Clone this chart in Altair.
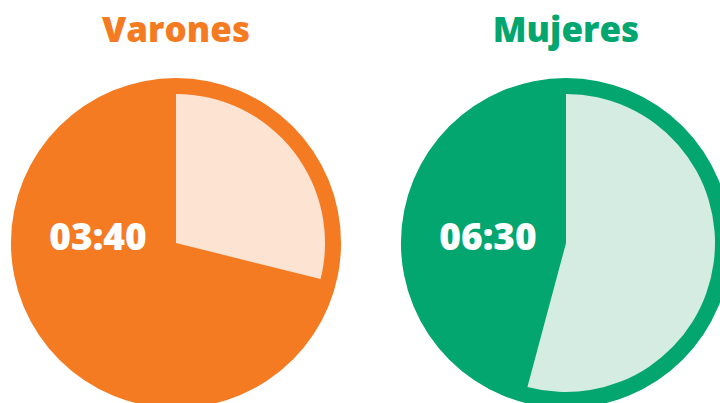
import altair as alt
import pandas as pd

# Data
groups = ["Varones", "Mujeres"]
time_labels = ["03:40", "06:30"]
light_end_deg = [104, 195]   # end angle of the light wedge (degrees, clockwise from 12 o'clock)
start_deg = [0, 0]
full_deg = [360, 360]

df = pd.DataFrame({
    "group": groups,
    "label": time_labels,
    "start": start_deg,
    "light": light_end_deg,
    "full": full_deg,
})

ORANGE = "#F47B22"
GREEN = "#03A66E"
LIGHT_ORANGE = "#FDE3D2"
LIGHT_GREEN = "#D4ECE1"
FONT = "Open Sans"

x_enc = alt.X("group:N", scale=alt.Scale(type="point", domain=groups, range=[176, 566], padding=0), axis=None)
theta_scale = alt.Scale(domain=[0, 360], range=[0, 6.283185307179586])
dark_color = alt.Color("group:N", scale=alt.Scale(domain=groups, range=[ORANGE, GREEN]), legend=None)
light_color = alt.Color("group:N", scale=alt.Scale(domain=groups, range=[LIGHT_ORANGE, LIGHT_GREEN]), legend=None)

base = alt.Chart(df)

outer = base.mark_arc(radius=165).encode(
    x=x_enc,
    y=alt.value(243),
    theta=alt.Theta("start:Q", scale=theta_scale),
    theta2="full:Q",
    color=dark_color,
)

wedge = base.mark_arc(radius=149).encode(
    x=x_enc,
    y=alt.value(243),
    theta=alt.Theta("start:Q", scale=theta_scale),
    theta2="light:Q",
    color=light_color,
)

time_text = base.mark_text(
    font=FONT, fontSize=37, fontWeight=800, color="white",
    dx=-78, baseline="alphabetic", align="center",
).encode(
    x=x_enc,
    y=alt.value(250),
    text="label:N",
)

title_text = base.mark_text(
    font=FONT, fontSize=35, fontWeight=800, baseline="alphabetic", align="center",
).encode(
    x=x_enc,
    y=alt.value(42),
    text="group:N",
    color=dark_color,
)

chart = alt.layer(outer, wedge, time_text, title_text).resolve_scale(
    color="independent"
).properties(
    width=720,
    height=403,
    padding=0,
    autosize=alt.AutoSizeParams(type="none"),
).configure_view(stroke=None)

chart.save("out.html", embed_options={"renderer": "svg", "actions": False})
